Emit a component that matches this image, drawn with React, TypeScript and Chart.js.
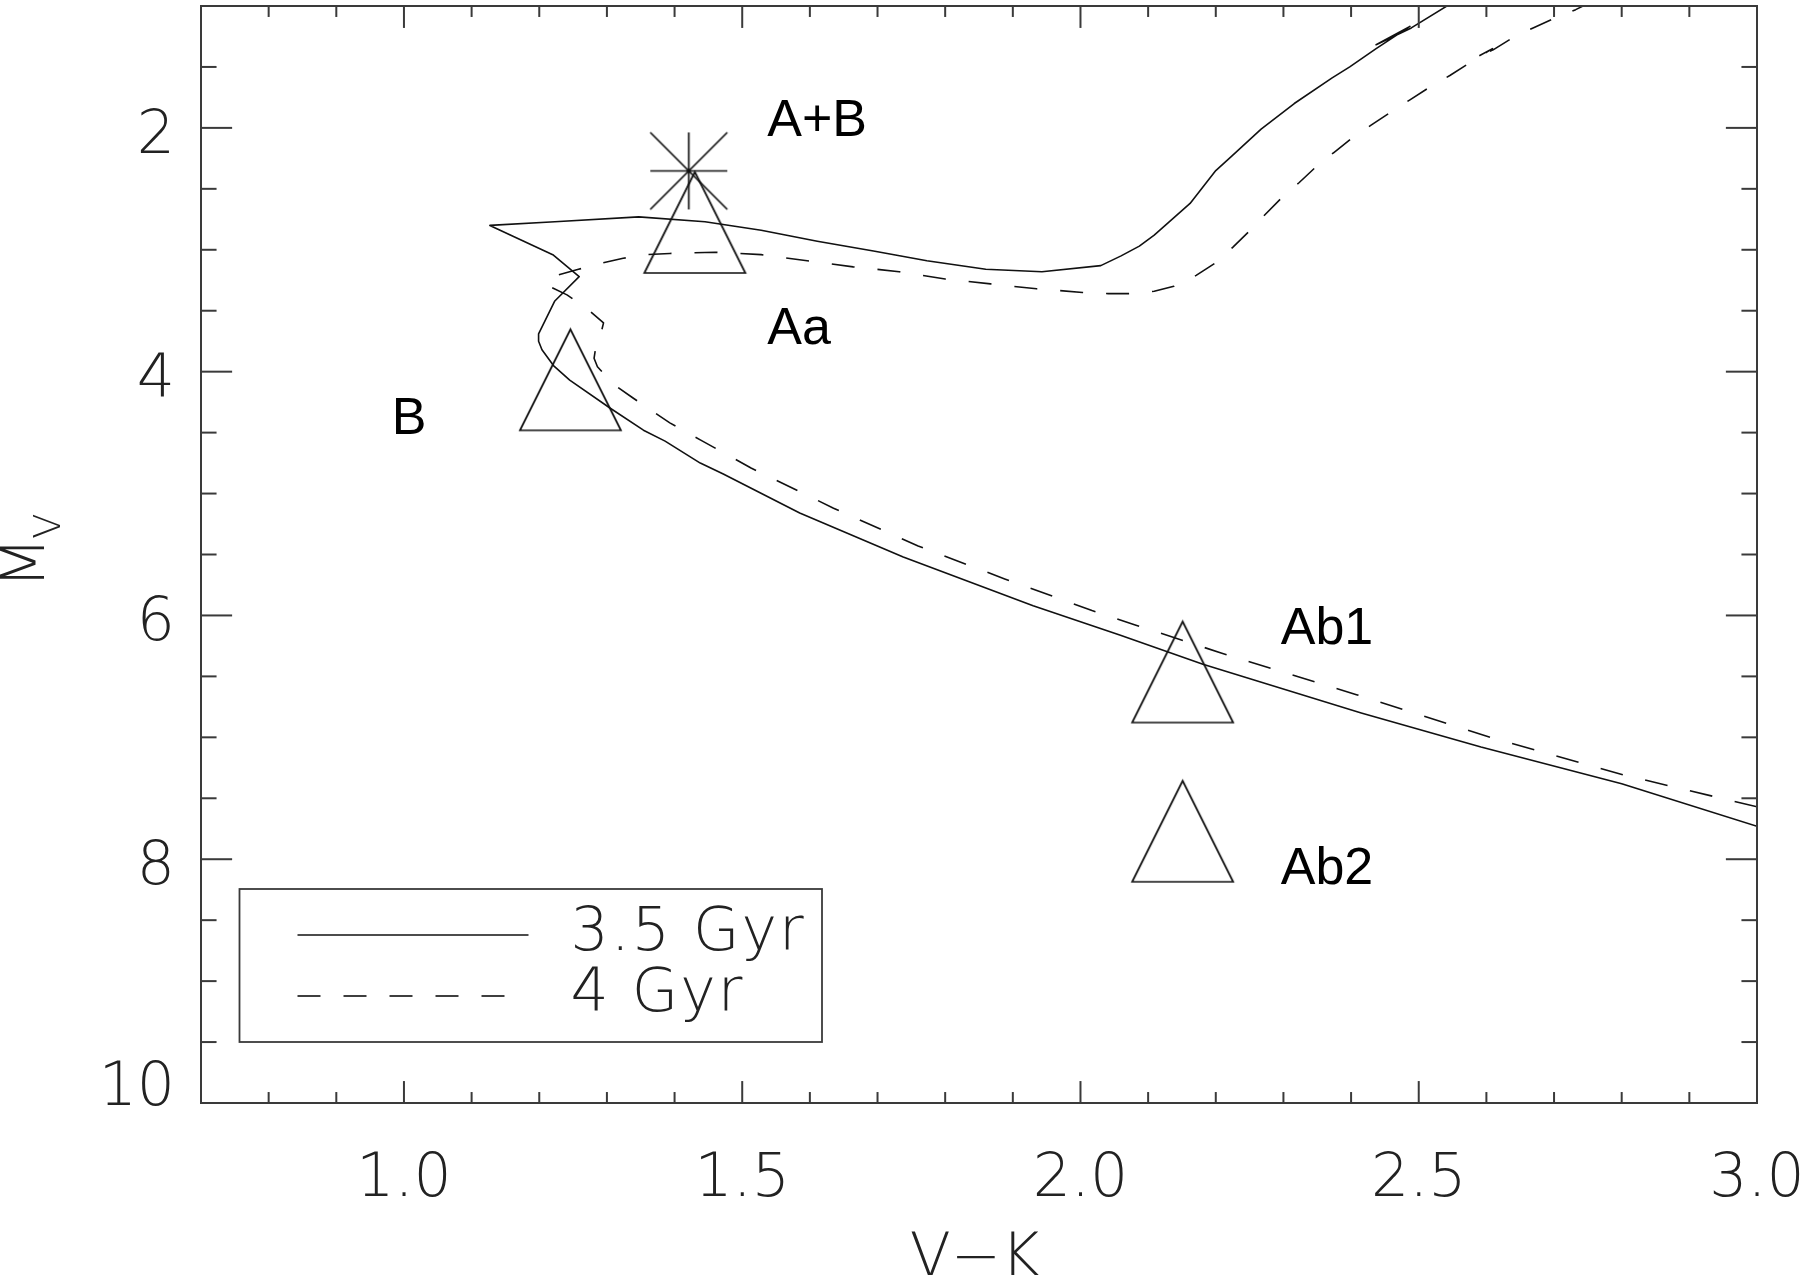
import React, { useEffect, useRef } from 'react';
import { Chart, registerables } from 'chart.js';

Chart.register(...registerables);

// ---------------- data ----------------
const xAxisTitle = 'V\u2212K';
const yAxisTitleMain = 'M';
const yAxisTitleSub = 'V';

const xMin = 0.7;
const xMax = 3.0;
const xMajorTicks = [1.0, 1.5, 2.0, 2.5, 3.0];
const xTickLabels = ['1.0', '1.5', '2.0', '2.5', '3.0'];
const xMinorStep = 0.1;

const yMin = 1;
const yMax = 10;
const yMajorTicks = [2, 4, 6, 8, 10];
const yTickLabels = ['2', '4', '6', '8', '10'];
const yMinorStep = 0.5;

// 3.5 Gyr isochrone (solid)
const iso35VK = [
  3.0, 2.8, 2.592, 2.415, 2.181, 2.058, 1.93, 1.738, 1.585, 1.472, 1.438, 1.386, 1.354, 1.305, 1.245,
  1.221, 1.204, 1.199, 1.199, 1.223, 1.259, 1.22, 1.127, 1.223, 1.347, 1.445, 1.528, 1.611, 1.694, 1.773,
  1.86, 1.943, 2.03, 2.06, 2.087, 2.109, 2.162, 2.2, 2.224, 2.267, 2.316, 2.372, 2.398, 2.437, 2.487,
  2.437, 2.489, 2.544, 2.591,
];
const iso35MV = [
  7.73, 7.38, 7.08, 6.8, 6.4, 6.16, 5.92, 5.52, 5.16, 4.84, 4.75, 4.57, 4.48, 4.3, 4.07,
  3.95, 3.82, 3.75, 3.69, 3.42, 3.22, 3.04, 2.8, 2.77, 2.73, 2.77, 2.84, 2.93, 3.01, 3.09,
  3.16, 3.18, 3.13, 3.05, 2.97, 2.88, 2.62, 2.35, 2.23, 2.01, 1.8, 1.59, 1.5, 1.35, 1.167,
  1.318, 1.18, 0.992, 0.84,
];

// 4 Gyr isochrone (dashed)
const iso4VK = [
  3.0, 2.804, 2.606, 2.408, 2.209, 2.082, 2.017, 1.888, 1.76, 1.635, 1.513, 1.438, 1.393, 1.366, 1.337,
  1.309, 1.286, 1.281, 1.284, 1.291, 1.295, 1.27, 1.241, 1.211, 1.214, 1.226, 1.258, 1.292, 1.324, 1.359,
  1.393, 1.46, 1.528, 1.596, 1.664, 1.732, 1.8, 1.867, 1.935, 2.003, 2.041, 2.072, 2.109, 2.138, 2.171,
  2.199, 2.225, 2.249, 2.273, 2.298, 2.323, 2.348, 2.375, 2.4, 2.429, 2.459, 2.487, 2.515, 2.546, 2.58,
  2.609, 2.582, 2.61, 2.639, 2.669, 2.701, 2.732, 2.783,
];
const iso4MV = [
  7.57, 7.31, 7.0, 6.65, 6.31, 6.08, 5.96, 5.7, 5.43, 5.12, 4.79, 4.56, 4.42, 4.32, 4.21,
  4.1, 3.96, 3.89, 3.78, 3.69, 3.6, 3.48, 3.37, 3.29, 3.25, 3.21, 3.16, 3.11, 3.07, 3.04,
  3.03, 3.02, 3.04, 3.09, 3.14, 3.18, 3.24, 3.28, 3.32, 3.35, 3.36, 3.36, 3.34, 3.3, 3.21,
  3.11, 2.98, 2.85, 2.71, 2.57, 2.45, 2.32, 2.2, 2.09, 1.98, 1.87, 1.77, 1.67, 1.57, 1.45,
  1.35, 1.43, 1.36, 1.26, 1.18, 1.1, 1.03, 0.89,
];

const seriesLabels = ['3.5 Gyr', '4 Gyr'];

// components (triangles)
const componentNames = ['Aa', 'B', 'Ab1', 'Ab2'];
const componentVK = [1.43, 1.246, 2.151, 2.151];
const componentMV = [2.776, 4.067, 6.464, 7.771];

// combined system (asterisk)
const combinedNames = ['A+B'];
const combinedVK = [1.421];
const combinedMV = [2.353];

// text labels (left / baseline anchor, data coords)
const labelTexts = ['A+B', 'Aa', 'B', 'Ab1', 'Ab2'];
const labelVK = [1.537, 1.537, 0.982, 2.296, 2.296];
const labelMV = [2.07, 3.77, 4.51, 6.235, 8.205];

// ---------------- styling ----------------
const W = 1801;
const H = 1275;
const AXIS_COLOR = '#3a3a3a';
const LINE_COLOR = '#111111';
const THIN_FONT_FAMILY = '"DejaVu Sans"';
const TICK_FONT = `200 60px ${THIN_FONT_FAMILY}`;
const LEGEND_FONT = `200 60px ${THIN_FONT_FAMILY}`;
const LABEL_FONT = '52px "Liberation Sans", Arial, sans-serif';

function makeTriangle(size: number, lw: number, color: string): HTMLCanvasElement {
  const pad = 4;
  const S = Math.ceil(size + pad * 2);
  const c = document.createElement('canvas');
  c.width = S;
  c.height = S;
  const g = c.getContext('2d')!;
  g.strokeStyle = color;
  g.lineWidth = lw;
  g.lineJoin = 'miter';
  const h = size / 2;
  const cx = S / 2;
  const cy = S / 2;
  g.beginPath();
  g.moveTo(cx - h, cy + h);
  g.lineTo(cx, cy - h);
  g.lineTo(cx + h, cy + h);
  g.closePath();
  g.stroke();
  return c;
}

function makeAsterisk(half: number, lw: number, color: string): HTMLCanvasElement {
  const S = Math.ceil(half * 2 + 4);
  const c = document.createElement('canvas');
  c.width = S;
  c.height = S;
  const g = c.getContext('2d')!;
  g.strokeStyle = color;
  g.lineWidth = lw;
  const cx = S / 2;
  const cy = S / 2;
  g.beginPath();
  g.moveTo(cx - half, cy); g.lineTo(cx + half, cy);
  g.moveTo(cx, cy - half); g.lineTo(cx, cy + half);
  g.moveTo(cx - half, cy - half); g.lineTo(cx + half, cy + half);
  g.moveTo(cx - half, cy + half); g.lineTo(cx + half, cy - half);
  g.stroke();
  return c;
}

const idlFramePlugin = {
  id: 'idlFrame',
  afterDraw(chart: any) {
    const { ctx, chartArea: a, scales } = chart;
    const xs = scales.x;
    const ys = scales.y;
    const w = a.right - a.left;
    const h = a.bottom - a.top;
    ctx.save();

    // frame
    ctx.strokeStyle = AXIS_COLOR;
    ctx.lineWidth = 2;
    ctx.strokeRect(a.left, a.top, w, h);

    const seg = (x1: number, y1: number, x2: number, y2: number) => {
      ctx.beginPath();
      ctx.moveTo(x1, y1);
      ctx.lineTo(x2, y2);
      ctx.stroke();
    };
    const near = (v: number, arr: number[]) => arr.some((m) => Math.abs(m - v) < 1e-6);

    // x ticks (bottom & top, inward)
    const xMaj = 0.02 * h;
    const xMinLen = 0.01 * h;
    for (let i = 1; ; i++) {
      const v = Math.round((xMin + i * xMinorStep) * 1000) / 1000;
      if (v > xMax + 1e-9) break;
      const len = near(v, xMajorTicks) ? xMaj : xMinLen;
      const px = xs.getPixelForValue(v);
      seg(px, a.bottom, px, a.bottom - len);
      seg(px, a.top, px, a.top + len);
    }
    // y ticks (left & right, inward)
    const yMaj = 0.02 * w;
    const yMinLen = 0.01 * w;
    for (let i = 1; ; i++) {
      const v = Math.round((yMin + i * yMinorStep) * 1000) / 1000;
      if (v > yMax + 1e-9) break;
      const len = near(v, yMajorTicks) ? yMaj : yMinLen;
      const py = ys.getPixelForValue(v);
      seg(a.left, py, a.left + len, py);
      seg(a.right, py, a.right - len, py);
    }

    // tick labels
    ctx.fillStyle = '#222';
    ctx.font = TICK_FONT;
    ctx.textBaseline = 'alphabetic';
    ctx.textAlign = 'center';
    xMajorTicks.forEach((v, i) => {
      ctx.fillText(xTickLabels[i], xs.getPixelForValue(v), a.bottom + 93);
    });
    ctx.textAlign = 'right';
    yMajorTicks.forEach((v, i) => {
      const py = ys.getPixelForValue(v);
      let base = py + 25;
      if (py > a.bottom - 5) base -= 23;
      ctx.fillText(yTickLabels[i], a.left - 26, base);
    });

    // axis titles
    ctx.textAlign = 'center';
    ctx.fillText(xAxisTitle, (a.left + a.right) / 2 - 4, a.bottom + 173);

    ctx.save();
    const cy = (a.top + a.bottom) / 2;
    ctx.translate(a.left - 157, cy + 30);
    ctx.rotate(-Math.PI / 2);
    ctx.textAlign = 'left';
    ctx.font = TICK_FONT;
    const mW = ctx.measureText(yAxisTitleMain).width;
    ctx.fillText(yAxisTitleMain, -4, 0);
    ctx.font = `200 37px ${THIN_FONT_FAMILY}`;
    ctx.fillText(yAxisTitleSub, mW - 6, 16);
    ctx.restore();

    // star labels
    ctx.fillStyle = '#000';
    ctx.font = LABEL_FONT;
    ctx.textAlign = 'left';
    labelTexts.forEach((t, i) => {
      ctx.fillText(t, xs.getPixelForValue(labelVK[i]), ys.getPixelForValue(labelMV[i]));
    });

    // legend box
    const bx = a.left + 38.5;
    const by = a.bottom - 214;
    const bw = 582.5;
    const bh = 153;
    ctx.strokeStyle = AXIS_COLOR;
    ctx.lineWidth = 1.8;
    ctx.strokeRect(bx, by, bw, bh);
    const ds = chart.data.datasets;
    const rows = [0, 1];
    rows.forEach((di, r) => {
      const d = ds[di];
      const ly = by + 46 + r * 61;
      ctx.strokeStyle = LINE_COLOR;
      ctx.lineWidth = 1.6;
      ctx.setLineDash(d.borderDash || []);
      const x2 = d.borderDash && d.borderDash.length ? bx + 58 + 207 : bx + 58 + 231;
      seg(bx + 58, ly, x2, ly);
      ctx.setLineDash([]);
      ctx.fillStyle = '#222';
      ctx.font = LEGEND_FONT;
      try { (ctx as any).letterSpacing = '2px'; } catch (e) { /* ignore */ }
      ctx.fillText(d.label, bx + 331, ly + 15);
      try { (ctx as any).letterSpacing = '0px'; } catch (e) { /* ignore */ }
    });

    ctx.restore();
  },
};

export default function App() {
  const ref = useRef<HTMLCanvasElement | null>(null);

  useEffect(() => {
    const canvas = ref.current;
    if (!canvas) return;
    const tri = makeTriangle(101, 1.7, LINE_COLOR);
    const ast = makeAsterisk(38.5, 1.7, LINE_COLOR);

    const chart = new Chart(canvas, {
      type: 'scatter',
      data: {
        datasets: [
          {
            label: seriesLabels[0],
            data: iso35VK.map((x, i) => ({ x, y: iso35MV[i] })),
            showLine: true,
            borderColor: LINE_COLOR,
            borderWidth: 1.6,
            borderJoinStyle: 'round',
            pointRadius: 0,
            fill: false,
            tension: 0,
          },
          {
            label: seriesLabels[1],
            data: iso4VK.map((x, i) => ({ x, y: iso4MV[i] })),
            showLine: true,
            borderColor: LINE_COLOR,
            borderWidth: 1.6,
            borderDash: [23, 23],
            borderJoinStyle: 'round',
            pointRadius: 0,
            fill: false,
            tension: 0,
          },
          {
            label: componentNames.join(', '),
            data: componentVK.map((x, i) => ({ x, y: componentMV[i] })),
            showLine: false,
            pointStyle: tri,
            pointRadius: 5,
          },
          {
            label: combinedNames[0],
            data: combinedVK.map((x, i) => ({ x, y: combinedMV[i] })),
            showLine: false,
            pointStyle: ast,
            pointRadius: 5,
          },
        ],
      } as any,
      options: {
        responsive: false,
        animation: false,
        devicePixelRatio: 1,
        events: [],
        layout: { padding: { left: 201, right: W - 1757, top: 1, bottom: H - 1103 } },
        scales: {
          x: { type: 'linear', display: false, min: xMin, max: xMax },
          y: { type: 'linear', display: false, min: yMin, max: yMax, reverse: true },
        },
        plugins: {
          legend: { display: false },
          tooltip: { enabled: false },
        },
      } as any,
      plugins: [idlFramePlugin],
    });
    return () => chart.destroy();
  }, []);

  return (
    <div style={{ position: 'absolute', left: 0, top: 0, width: W, height: H, background: '#fff' }}>
      <canvas ref={ref} width={W} height={H} style={{ display: 'block', width: W, height: H }} />
    </div>
  );
}
